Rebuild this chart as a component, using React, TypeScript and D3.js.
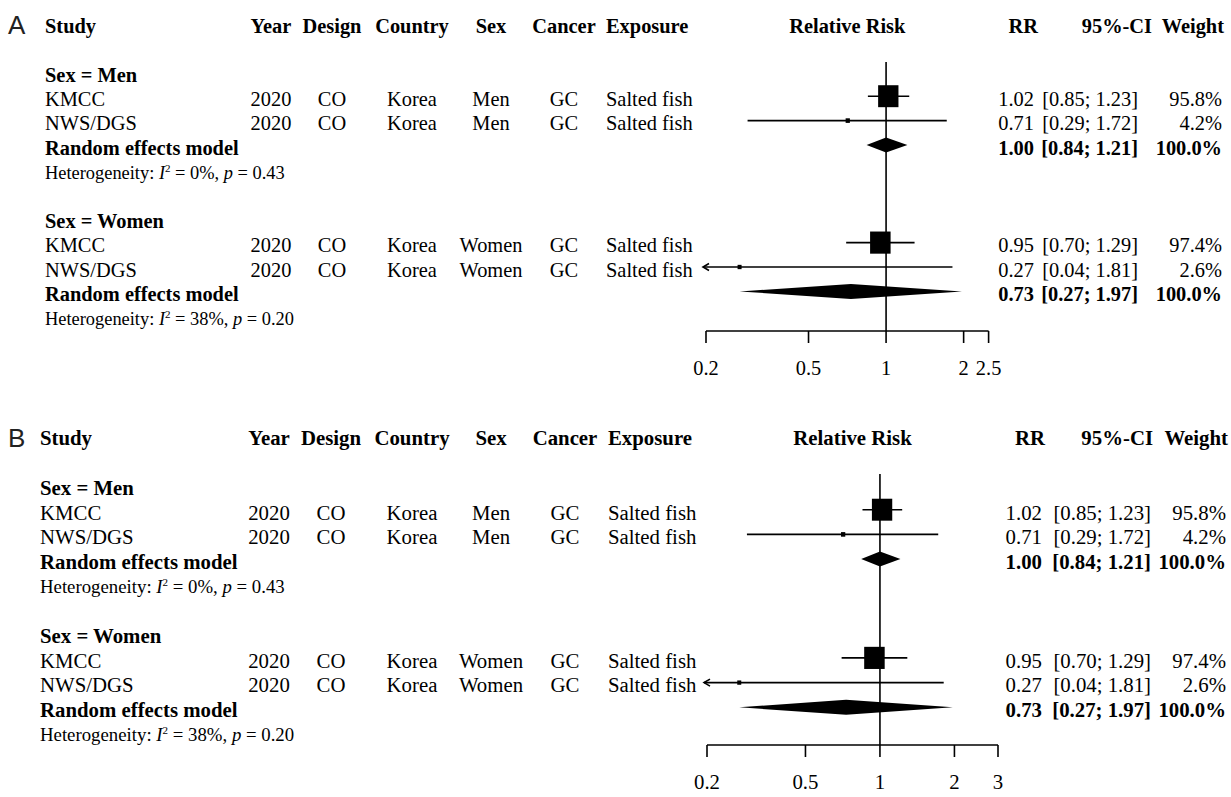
import React from "react";
import * as d3 from "d3";

// ---------- data ----------
const panelLabels = ["A", "B"];
const headerLeft = ["Study", "Year", "Design", "Country", "Sex", "Cancer", "Exposure"];
const headerPlot = "Relative Risk";
const headerRight = ["RR", "95%-CI", "Weight"];
const groupLabels = ["Sex = Men", "Sex = Women"];
const pooledLabel = "Random effects model";
const studyNames = ["KMCC", "NWS/DGS", "KMCC", "NWS/DGS"];
const studyGroup = [0, 0, 1, 1];
const studyYear = ["2020", "2020", "2020", "2020"];
const studyDesign = ["CO", "CO", "CO", "CO"];
const studyCountry = ["Korea", "Korea", "Korea", "Korea"];
const studySex = ["Men", "Men", "Women", "Women"];
const studyCancer = ["GC", "GC", "GC", "GC"];
const studyExposure = ["Salted fish", "Salted fish", "Salted fish", "Salted fish"];
const studyRR = [1.02, 0.71, 0.95, 0.27];
const studyLower = [0.85, 0.29, 0.7, 0.04];
const studyUpper = [1.23, 1.72, 1.29, 1.81];
const studyWeight = [95.8, 4.2, 97.4, 2.6];
const pooledRR = [1.0, 0.73];
const pooledLower = [0.84, 0.27];
const pooledUpper = [1.21, 1.97];
const hetI2 = ["0%", "38%"];
const hetP = ["0.43", "0.20"];
const ticksA = [0.2, 0.5, 1, 2, 2.5];
const ticksB = [0.2, 0.5, 1, 2, 3];

// ---------- layout ----------
const panels = [
  {
    label: panelLabels[0], ticks: ticksA, row0: 26, rowH: 24.4, range: [706, 988.6], axisY: 331,
    refTop: 62, font: 20.4, labelY: 34,
    cols: { study: 45, year: 271, design: 332, country: 412, sex: 491, cancer: 564, exposure: 606,
      rrRight: 1034, rrHead: 1038, ciRight: 1138, ciHead: 1152, wRight: 1222 },
  },
  {
    label: panelLabels[1], ticks: ticksB, row0: 438.6, rowH: 24.7, range: [707, 998], axisY: 745,
    refTop: 474, font: 20.8, labelY: 447,
    cols: { study: 40, year: 269, design: 331, country: 412, sex: 491, cancer: 565, exposure: 608,
      rrRight: 1042, rrHead: 1045, ciRight: 1151, ciHead: 1153, wRight: 1226 },
  },
];

const SERIF = "'Liberation Serif', 'Times New Roman', serif";
const f2 = d3.format(".2f");
const f1 = d3.format(".1f");

function Panel({ p }: { p: (typeof panels)[number] }) {
  const x = d3.scaleLog().domain([p.ticks[0], p.ticks[p.ticks.length - 1]]).range(p.range);
  const rowY = (r: number) => p.row0 + r * p.rowH;
  const base = (r: number) => rowY(r) + 6.8;
  const markY = (r: number) => rowY(r) - 3;
  const c = p.cols;
  const maxW = d3.max(studyWeight) as number;
  const side = (w: number) => 20.5 * Math.sqrt(w / maxW);
  const xMin = p.ticks[0];
  const elems: React.ReactNode[] = [];
  const T = (key: string, tx: number, ty: number, s: string, anchor = "start", bold = false) => (
    <text key={key} x={tx} y={ty} textAnchor={anchor} fontWeight={bold ? "bold" : "normal"}
      style={{ whiteSpace: "pre" }}>{s}</text>
  );

  // header
  const hb = base(0);
  elems.push(T("h0", c.study, hb, headerLeft[0], "start", true));
  elems.push(T("h1", c.year, hb, headerLeft[1], "middle", true));
  elems.push(T("h2", c.design, hb, headerLeft[2], "middle", true));
  elems.push(T("h3", c.country, hb, headerLeft[3], "middle", true));
  elems.push(T("h4", c.sex, hb, headerLeft[4], "middle", true));
  elems.push(T("h5", c.cancer, hb, headerLeft[5], "middle", true));
  elems.push(T("h6", c.exposure, hb, headerLeft[6], "start", true));
  elems.push(T("h7", (p.range[0] + p.range[1]) / 2, hb, headerPlot, "middle", true));
  elems.push(T("h8", c.rrHead, hb, headerRight[0], "end", true));
  elems.push(T("h9", c.ciHead, hb, headerRight[1], "end", true));
  elems.push(T("h10", c.wRight + 2, hb, headerRight[2], "end", true));

  // reference line
  elems.push(<line key="ref" x1={x(1)} x2={x(1)} y1={p.refTop} y2={p.axisY} stroke="#000" strokeWidth={1.6} />);

  groupLabels.forEach((g, gi) => {
    const r0 = 2 + gi * 6;
    elems.push(T(`g${gi}`, c.study, base(r0), g, "start", true));
    const idx = studyNames.map((_, i) => i).filter((i) => studyGroup[i] === gi);
    idx.forEach((i, k) => {
      const r = r0 + 1 + k;
      const b = base(r);
      elems.push(T(`s${i}a`, c.study, b, studyNames[i]));
      elems.push(T(`s${i}b`, c.year, b, studyYear[i], "middle"));
      elems.push(T(`s${i}c`, c.design, b, studyDesign[i], "middle"));
      elems.push(T(`s${i}d`, c.country, b, studyCountry[i], "middle"));
      elems.push(T(`s${i}e`, c.sex, b, studySex[i], "middle"));
      elems.push(T(`s${i}f`, c.cancer, b, studyCancer[i], "middle"));
      elems.push(T(`s${i}g`, c.exposure, b, studyExposure[i]));
      elems.push(T(`s${i}h`, c.rrRight, b, f2(studyRR[i]), "end"));
      elems.push(T(`s${i}i`, c.ciRight, b, `[${f2(studyLower[i])}; ${f2(studyUpper[i])}]`, "end"));
      elems.push(T(`s${i}j`, c.wRight, b, `${f1(studyWeight[i])}%`, "end"));
      // marks
      const cy = markY(r);
      const clipped = studyLower[i] < xMin;
      const x1 = clipped ? x(xMin) - 3 : x(studyLower[i]);
      elems.push(<line key={`ci${i}`} x1={x1} x2={x(studyUpper[i])} y1={cy} y2={cy} stroke="#000" strokeWidth={1.6} />);
      if (clipped) {
        elems.push(
          <path key={`ar${i}`} d={`M${x1 + 6},${cy - 3.5} L${x1},${cy} L${x1 + 6},${cy + 3.5}`} fill="none" stroke="#000" strokeWidth={1.6} />
        );
      }
      const s = Math.max(side(studyWeight[i]), 4);
      elems.push(<rect key={`sq${i}`} x={x(studyRR[i]) - s / 2} y={cy - (s * 1.08) / 2} width={s} height={s * 1.08} fill="#000" />);
    });
    // pooled
    const rp = r0 + 3;
    const bp = base(rp);
    elems.push(T(`p${gi}a`, c.study, bp, pooledLabel, "start", true));
    elems.push(T(`p${gi}b`, c.rrRight, bp, f2(pooledRR[gi]), "end", true));
    elems.push(T(`p${gi}c`, c.ciRight, bp, `[${f2(pooledLower[gi])}; ${f2(pooledUpper[gi])}]`, "end", true));
    elems.push(T(`p${gi}d`, c.wRight, bp, `${f1(100)}%`, "end", true));
    const cy = markY(rp);
    const h = 7.5;
    elems.push(
      <polygon key={`dm${gi}`} fill="#000"
        points={`${x(pooledLower[gi])},${cy} ${x(pooledRR[gi])},${cy - h} ${x(pooledUpper[gi])},${cy} ${x(pooledRR[gi])},${cy + h}`} />
    );
    // heterogeneity
    const rh = r0 + 4;
    elems.push(
      <text key={`het${gi}`} x={c.study} y={base(rh) - 0.5} fontSize={p.font - 2} style={{ whiteSpace: "pre" }}>
        {"Heterogeneity: "}
        <tspan fontStyle="italic">I</tspan>
        <tspan dy={-7} fontSize={11}>2</tspan>
        <tspan dy={7}>{` = ${hetI2[gi]}, `}</tspan>
        <tspan fontStyle="italic">p</tspan>
        {` = ${hetP[gi]}`}
      </text>
    );
  });

  // axis
  elems.push(<line key="ax" x1={p.range[0]} x2={p.range[1]} y1={p.axisY} y2={p.axisY} stroke="#000" strokeWidth={1.6} />);
  p.ticks.forEach((t, ti) => {
    elems.push(<line key={`t${ti}`} x1={x(t)} x2={x(t)} y1={p.axisY} y2={p.axisY + 12} stroke="#000" strokeWidth={1.6} />);
    elems.push(T(`tl${ti}`, x(t), p.axisY + 44, String(t), "middle"));
  });

  return (
    <g fontFamily={SERIF} fontSize={p.font} fill="#000">
      <text x={8} y={p.labelY} fontFamily="'Liberation Sans', Arial, sans-serif" fontSize={26} fill="#222">{p.label}</text>
      {elems}
    </g>
  );
}

export default function App() {
  return (
    <svg width={1231} height={797} style={{ position: "absolute", left: 0, top: 0, background: "#fff" }}>
      <rect width={1231} height={797} fill="#fff" />
      {panels.map((p) => (
        <Panel key={p.label} p={p} />
      ))}
    </svg>
  );
}
